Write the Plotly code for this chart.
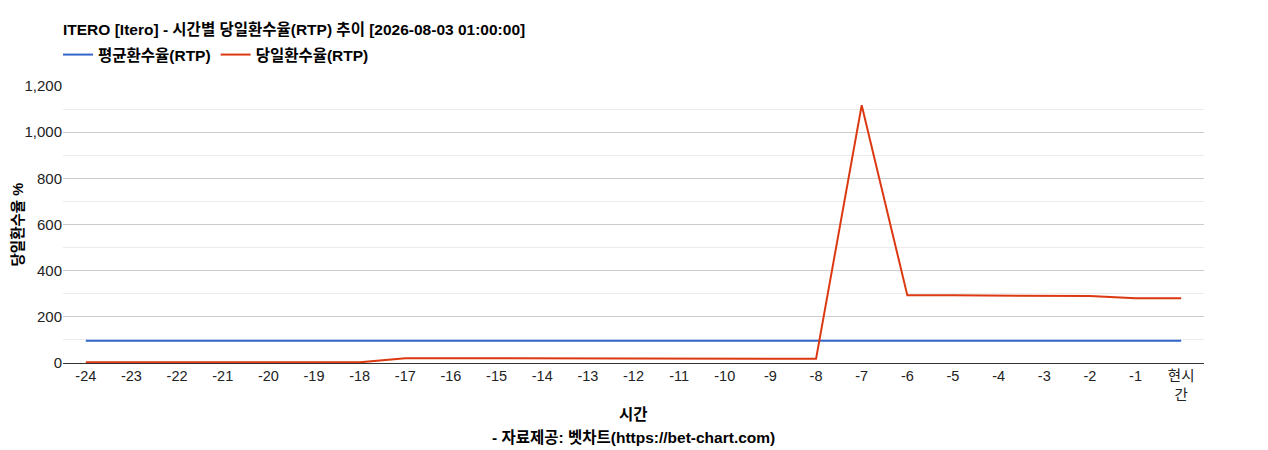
import plotly.graph_objects as go

hours = ["-24", "-23", "-22", "-21", "-20", "-19", "-18", "-17", "-16", "-15", "-14", "-13",
         "-12", "-11", "-10", "-9", "-8", "-7", "-6", "-5", "-4", "-3", "-2", "-1", "현시간"]
tick_labels = hours[:-1] + ["현시<br>간"]

avg_rtp = [96] * 25
daily_rtp = [3, 3, 3, 3, 3, 3, 3, 21, 21, 18, 18, 18, 18, 18, 18, 18, 18,
             1117, 293, 293, 293, 293, 290, 280, 280]

font_family = "Arial, Liberation Sans, Noto Sans CJK KR, sans-serif"

fig = go.Figure()
fig.add_trace(go.Scatter(x=hours, y=avg_rtp, mode="lines", name="<b>평균환수율(RTP)</b>",
                         line=dict(color="#3366cc", width=2)))
fig.add_trace(go.Scatter(x=hours, y=daily_rtp, mode="lines", name="<b>당일환수율(RTP)</b>",
                         line=dict(color="#dc3912", width=2)))

# page body adds an 8px offset, so the figure is a bit smaller than the window
fig.update_layout(
    width=1260, height=442,
    margin=dict(l=55, r=64, t=78, b=87),
    paper_bgcolor="white", plot_bgcolor="white",
    font=dict(family=font_family, size=14, color="#222"),
    title=dict(text="<b>ITERO [Itero] - 시간별 당일환수율(RTP) 추이 [2026-08-03 01:00:00]</b>",
               x=55 / 1260, xanchor="left", y=1 - 22 / 442, yanchor="middle",
               font=dict(size=15.5, color="#000")),
    legend=dict(orientation="h", x=-5 / 1141, xanchor="left", y=(363 - 55) / 277, yanchor="middle",
                font=dict(size=15.5, color="#000"), itemwidth=30,
                bgcolor="rgba(0,0,0,0)"),
    showlegend=True,
)

fig.update_xaxes(
    type="category", tickvals=hours, ticktext=tick_labels, range=[-0.5, 24.5],
    showgrid=False, showline=True, linecolor="#333", linewidth=1,
    ticks="", tickfont=dict(size=14.5, color="#222"),
)
fig.update_yaxes(
    range=[0, 1200], dtick=200, tickformat=",d",
    showgrid=True, gridcolor="#cccccc", gridwidth=1,
    minor=dict(dtick=100, showgrid=True, gridcolor="#ebebeb"),
    zeroline=False, showline=False, ticks="",
    tickfont=dict(size=15, color="#222"),
)

fig.add_annotation(text="<b>시간</b>", xref="paper", yref="paper",
                   x=0.5, y=(363 - 414) / 277, showarrow=False,
                   font=dict(size=15.5, color="#000"), yanchor="middle")
fig.add_annotation(text="<b>- 자료제공: 벳차트(https://bet-chart.com)</b>", xref="paper", yref="paper",
                   x=0.5, y=(363 - 437) / 277, showarrow=False,
                   font=dict(size=15.5, color="#000"), yanchor="middle")
fig.add_annotation(text="<b>당일환수율 %</b>", xref="paper", yref="paper",
                   x=(17 - 63) / 1141, y=0.5, textangle=-90, showarrow=False,
                   font=dict(size=14.5, color="#000"), xanchor="center", yanchor="middle")

fig.write_html("out.html")
